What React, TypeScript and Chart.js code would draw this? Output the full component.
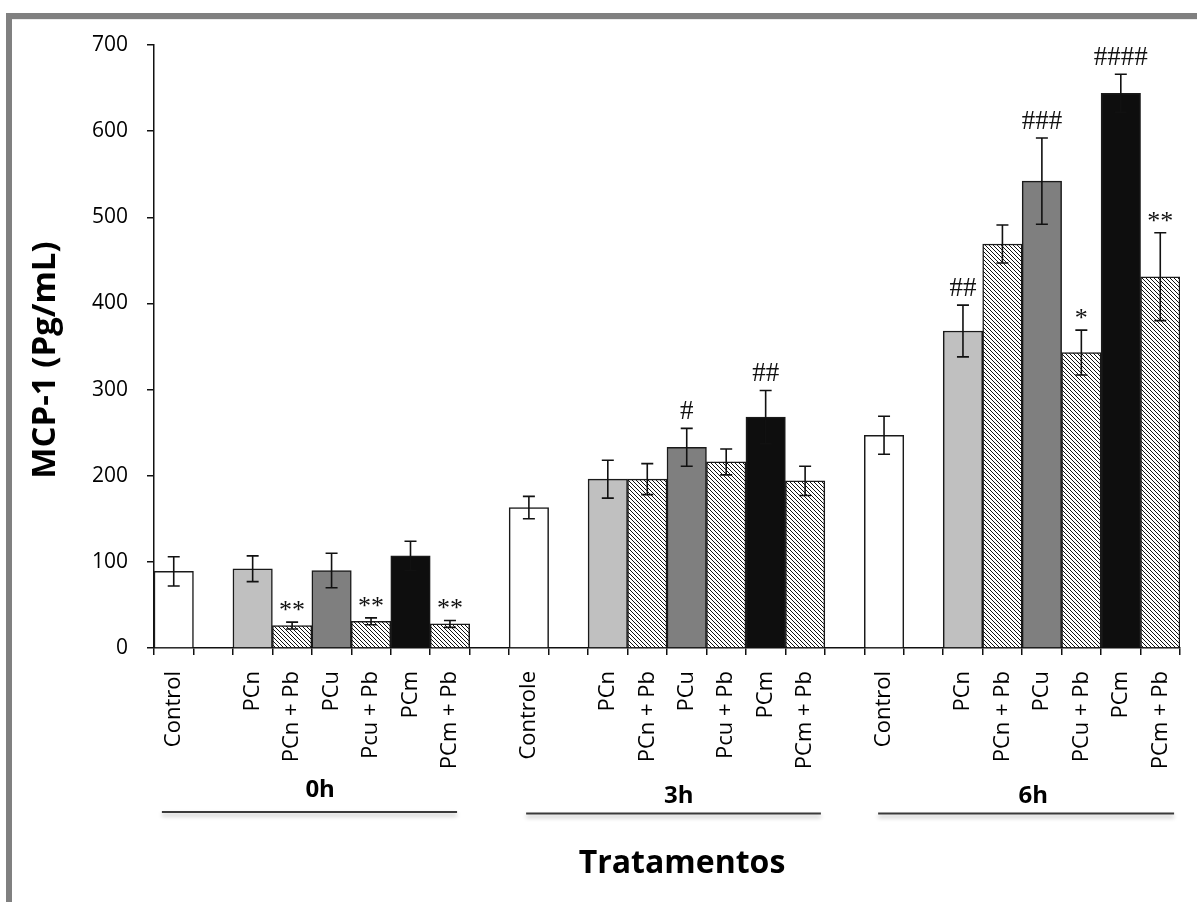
import React, { useEffect, useRef } from 'react';
import { Chart, registerables } from 'chart.js';

Chart.register(...registerables);

// ---- data ----
const categories = [
  'Control', '', 'PCn', 'PCn + Pb', 'PCu', 'Pcu + Pb', 'PCm', 'PCm + Pb',
  '', 'Controle', '', 'PCn', 'PCn + Pb', 'PCu', 'Pcu + Pb', 'PCm', 'PCm + Pb',
  '', 'Control', '', 'PCn', 'PCn + Pb', 'PCu', 'PCu + Pb', 'PCm', 'PCm + Pb',
];
const means = [
  89, null, 92, 26, 90, 31, 107, 28,
  null, 163, null, 196, 196, 233, 216, 268, 194,
  null, 247, null, 368, 469, 542, 343, 644, 431,
];
const errors = [
  17, null, 15, 4, 20, 4, 17, 4,
  null, 13, null, 22, 18, 22, 15, 31, 17,
  null, 22, null, 30, 22, 50, 26, 22, 51,
];
const marks = [
  '', '', '', '**', '', '**', '', '**',
  '', '', '', '', '', '#', '', '##', '',
  '', '', '', '##', '', '###', '*', '####', '**',
];
const fillKinds = [
  'white', 'none', 'light', 'hatch', 'mid', 'hatch', 'dark', 'hatch',
  'none', 'white', 'none', 'light', 'hatch', 'mid', 'hatch', 'dark', 'hatch',
  'none', 'white', 'none', 'light', 'hatch', 'mid', 'hatch', 'dark', 'hatch',
];
const groupLabels = ['0h', '3h', '6h'];
const groupFrom = [-0.3, 8.93, 17.85];
const groupTo = [7.18, 16.4, 25.35];
const groupAt = [3.71, 12.8, 21.78];
const yTickStep = 100;
const yMin = 0;
const yMax = 700;
const yTitle = 'MCP-1 (Pg/mL)';
const xTitle = 'Tratamentos';

function makeHatch(): CanvasPattern | string {
  const s = 4;
  const p = document.createElement('canvas');
  p.width = s;
  p.height = s;
  const c = p.getContext('2d');
  if (!c) return '#999';
  c.fillStyle = '#ffffff';
  c.fillRect(0, 0, s, s);
  c.strokeStyle = '#111111';
  c.lineWidth = 1;
  c.beginPath();
  c.moveTo(-1, -1);
  c.lineTo(s + 1, s + 1);
  c.moveTo(-1, s - 1);
  c.lineTo(1, s + 1);
  c.moveTo(s - 1, -1);
  c.lineTo(s + 1, 1);
  c.stroke();
  const pat = c.createPattern(p, 'repeat');
  return pat || '#999';
}

export default function App() {
  const ref = useRef<HTMLCanvasElement | null>(null);

  useEffect(() => {
    const canvas = ref.current;
    if (!canvas) return;
    const hatch = makeHatch();
    const colorMap: Record<string, any> = {
      white: '#ffffff',
      none: 'rgba(0,0,0,0)',
      light: '#c0c0c0',
      mid: '#7f7f7f',
      dark: '#0e0e0e',
      hatch,
    };
    const bg = fillKinds.map((k) => colorMap[k]);

    const framePlugin = {
      id: 'frame',
      beforeDraw(chart: any) {
        const ctx = chart.ctx;
        ctx.save();
        ctx.fillStyle = '#ffffff';
        ctx.fillRect(0, 0, chart.width, chart.height);
        ctx.strokeStyle = '#808080';
        ctx.lineWidth = 6;
        ctx.strokeRect(9, 16, 1400, 1200);
        ctx.strokeStyle = 'rgba(0,0,0,0.08)';
        ctx.lineWidth = 1;
        ctx.beginPath();
        ctx.moveTo(12, 19.5);
        ctx.lineTo(chart.width, 19.5);
        ctx.stroke();
        ctx.restore();
      },
    };

    const errorPlugin = {
      id: 'errs',
      afterDatasetsDraw(chart: any) {
        const ctx = chart.ctx;
        const meta = chart.getDatasetMeta(0);
        const ys = chart.scales.y;
        ctx.save();
        ctx.strokeStyle = '#111111';
        ctx.lineWidth = 1.6;
        meta.data.forEach((bar: any, i: number) => {
          const m = means[i];
          const e = errors[i];
          if (m == null || e == null) return;
          const x = bar.x;
          const yT = ys.getPixelForValue(m + e);
          const yB = ys.getPixelForValue(m - e);
          const hw = 6;
          ctx.beginPath();
          ctx.moveTo(x, yT);
          ctx.lineTo(x, yB);
          ctx.moveTo(x - hw, yT);
          ctx.lineTo(x + hw, yT);
          ctx.moveTo(x - hw, yB);
          ctx.lineTo(x + hw, yB);
          ctx.stroke();
        });
        // significance marks
        ctx.fillStyle = '#111111';
        ctx.textAlign = 'center';
        ctx.textBaseline = 'alphabetic';
        meta.data.forEach((bar: any, i: number) => {
          const t = marks[i];
          const m = means[i];
          const e = errors[i];
          if (!t || m == null || e == null) return;
          const yT = ys.getPixelForValue(m + e);
          if (t.includes('#')) {
            ctx.font = '27px "Liberation Serif"';
            ctx.fillText(t, bar.x, yT - 9);
          } else {
            ctx.font = '26px "Liberation Serif"';
            ctx.fillText(t, bar.x, yT - 4);
          }
        });
        ctx.restore();
      },
    };

    const labelPlugin = {
      id: 'labels',
      afterDraw(chart: any) {
        const ctx = chart.ctx;
        const xs = chart.scales.x;
        ctx.save();
        // y title
        ctx.fillStyle = '#000000';
        ctx.font = 'bold 33px "Open Sans"';
        ctx.textAlign = 'center';
        ctx.textBaseline = 'alphabetic';
        ctx.translate(55, 360);
        ctx.rotate(-Math.PI / 2);
        ctx.fillText(yTitle, 0, 0);
        ctx.setTransform(1, 0, 0, 1, 0, 0);
        // groups
        const textY = [797, 803, 803];
        const lineY = [812, 813.5, 813.5];
        groupLabels.forEach((g, k) => {
          const x1 = xs.getPixelForValue(groupFrom[k]);
          const x2 = xs.getPixelForValue(groupTo[k]);
          const xc = xs.getPixelForValue(groupAt[k]);
          ctx.save();
          ctx.shadowColor = 'rgba(0,0,0,0.3)';
          ctx.shadowBlur = 4;
          ctx.shadowOffsetY = 3;
          ctx.strokeStyle = '#3a3a3a';
          ctx.lineWidth = 2;
          ctx.beginPath();
          ctx.moveTo(x1, lineY[k]);
          ctx.lineTo(x2, lineY[k]);
          ctx.stroke();
          ctx.restore();
          ctx.fillStyle = '#000000';
          ctx.font = 'bold 24px "Open Sans"';
          ctx.textAlign = 'center';
          ctx.fillText(g, xc, textY[k]);
        });
        // x title
        ctx.font = 'bold 32px "Open Sans"';
        ctx.textAlign = 'center';
        ctx.fillText(xTitle, 682, 873);
        ctx.restore();
      },
    };

    const chart = new Chart(canvas, {
      type: 'bar',
      data: {
        labels: categories,
        datasets: [
          {
            data: means as any,
            backgroundColor: bg,
            borderColor: '#1a1a1a',
            borderWidth: 1.5,
            barPercentage: 1,
            categoryPercentage: 1,
          },
        ],
      },
      options: {
        animation: false,
        responsive: false,
        events: [],
        layout: { padding: { left: 0, top: 45, right: 17, bottom: 0 } },
        plugins: {
          legend: { display: false },
          tooltip: { enabled: false },
        },
        scales: {
          x: {
            offset: true,
            grid: {
              display: true,
              drawOnChartArea: false,
              drawTicks: true,
              tickLength: 7,
              color: '#111111',
              lineWidth: 1.5,
              offset: true,
            },
            border: { display: true, color: '#111111', width: 1.5 },
            ticks: {
              autoSkip: false,
              minRotation: 90,
              maxRotation: 90,
              padding: 16,
              color: '#000000',
              font: { family: '"Open Sans"', size: 22 },
            },
            afterFit: (s: any) => {
              s.height = 254;
              s.paddingLeft = 0;
              s.paddingRight = 0;
            },
          },
          y: {
            min: yMin,
            max: yMax,
            ticks: {
              stepSize: yTickStep,
              padding: 19,
              color: '#000000',
              font: { family: '"Open Sans"', size: 21 },
            },
            grid: {
              drawOnChartArea: false,
              tickLength: 7,
              color: '#111111',
              lineWidth: 1.5,
            },
            border: { display: true, color: '#111111', width: 1.5 },
            afterFit: (s: any) => {
              s.width = 154;
            },
          },
        },
      },
      plugins: [framePlugin, errorPlugin, labelPlugin],
    });

    return () => {
      chart.destroy();
    };
  }, []);

  return (
    <canvas
      ref={ref}
      width={1197}
      height={902}
      style={{ position: 'absolute', left: 0, top: 0, width: 1197, height: 902 }}
    />
  );
}
